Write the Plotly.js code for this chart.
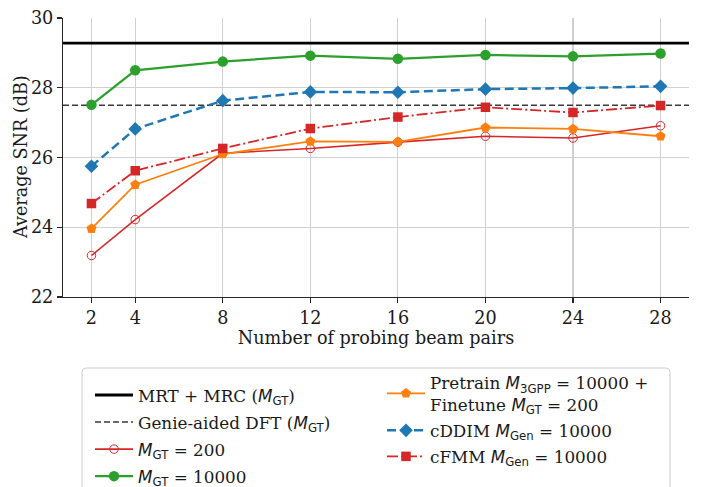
<!DOCTYPE html>
<html>
<head>
<meta charset="utf-8">
<script src="https://cdn.plot.ly/plotly-3.0.1.min.js"></script>
<style>html,body{margin:0;padding:0;background:#fff;}#chart{width:701px;height:487px;}</style>
</head>
<body>
<div id="chart"></div>
<script>
// ---- data ----
var beamPairs = [2, 4, 8, 12, 16, 20, 24, 28];
var xTicks = [2, 4, 8, 12, 16, 20, 24, 28];
var xRange = [0.7, 29.3];
var yRange = [22, 30];
var mrtMrc = 29.28;          // MRT + MRC (M_GT)
var genieDft = 27.5;         // Genie-aided DFT (M_GT)
var mGt200 = [23.19, 24.22, 26.12, 26.26, 26.44, 26.61, 26.56, 26.91];
var mGt10000 = [27.51, 28.50, 28.75, 28.92, 28.83, 28.94, 28.90, 28.98];
var pretrainFinetune = [23.96, 25.22, 26.10, 26.46, 26.45, 26.86, 26.82, 26.61];
var cDDIM = [25.75, 26.82, 27.63, 27.88, 27.87, 27.96, 27.99, 28.04];
var cFMM = [24.68, 25.62, 26.26, 26.83, 27.16, 27.44, 27.29, 27.49];

var LEG_FS = 16.8;
var SANS = 'style="font-family:DejaVu Sans"';
function M(sub) { return '<span ' + SANS + '><i>M</i><sub>' + sub + '</sub></span>'; }
var names = {
  mrt: 'MRT + MRC (' + M('GT') + ')',
  genie: 'Genie-aided DFT (' + M('GT') + ')',
  m200: M('GT') + ' = 200',
  m10000: M('GT') + ' = 10000',
  pre: 'Pretrain ' + M('3GPP') + ' = 10000 +<br>Finetune ' + M('GT') + ' = 200',
  cddim: 'cDDIM ' + M('Gen') + ' = 10000',
  cfmm: 'cFMM ' + M('Gen') + ' = 10000'
};

var traces = [
  {x: xRange, y: [mrtMrc, mrtMrc], name: names.mrt, mode: 'lines', legend: 'legend', legendgroup: 'g1',
   line: {color: '#000000', width: 2.8}},
  {x: xRange, y: [genieDft, genieDft], name: names.genie, mode: 'lines', legend: 'legend', legendgroup: 'g2',
   line: {color: '#3a3a3a', width: 1.6, dash: '6px,3px'}},
  {x: beamPairs, y: mGt200, name: names.m200, mode: 'lines+markers', legend: 'legend', legendgroup: 'g3',
   line: {color: '#d62728', width: 1.6},
   marker: {symbol: 'circle-open', size: 8.5, color: '#d62728', line: {width: 1, color: '#d62728'}}},
  {x: beamPairs, y: mGt10000, name: names.m10000, mode: 'lines+markers', legend: 'legend', legendgroup: 'g4',
   line: {color: '#2ca02c', width: 2.2},
   marker: {symbol: 'circle', size: 10.5, color: '#2ca02c'}},
  {x: beamPairs, y: pretrainFinetune, name: names.pre, mode: 'lines+markers', legend: 'legend2', legendgroup: 'g5',
   line: {color: '#ff7f0e', width: 1.8},
   marker: {symbol: 'pentagon', size: 10.5, color: '#ff7f0e'}},
  {x: beamPairs, y: cDDIM, name: names.cddim, mode: 'lines+markers', legend: 'legend2', legendgroup: 'g6',
   line: {color: '#1f77b4', width: 2.5, dash: '9px,4.5px'},
   marker: {symbol: 'diamond', size: 10.5, color: '#1f77b4'}},
  {x: beamPairs, y: cFMM, name: names.cfmm, mode: 'lines+markers', legend: 'legend2', legendgroup: 'g7',
   line: {color: '#d62728', width: 1.8, dash: '11px,3px,2px,3px'},
   marker: {symbol: 'square', size: 9.5, color: '#d62728'}}
];

var W = 701, H = 487, L = 63, R = 12, T = 18, B = 190;
var pw = W - L - R, ph = H - T - B;
function px2x(p) { return (p - L) / pw; }
function py2y(p) { return (H - B - p) / ph; }

var bx0 = px2x(82), bx1 = px2x(670), byt = py2y(368), byb = py2y(520);
var rdx = 4 / pw, rdy = 4 / ph;
var boxPath = 'M' + bx0 + ',' + byb + ' L' + bx0 + ',' + (byt - rdy) +
  ' Q' + bx0 + ',' + byt + ' ' + (bx0 + rdx) + ',' + byt +
  ' L' + (bx1 - rdx) + ',' + byt +
  ' Q' + bx1 + ',' + byt + ' ' + bx1 + ',' + (byt - rdy) +
  ' L' + bx1 + ',' + byb + ' Z';

var serif = 'DejaVu Serif';
var txtColor = '#1a1a1a';
var AX_FS = 17.6;
var legendFont = {family: serif, size: LEG_FS, color: txtColor};

var layout = {
  width: W, height: H,
  margin: {l: L, r: R, t: T, b: B, pad: 0, autoexpand: false},
  paper_bgcolor: '#ffffff', plot_bgcolor: '#ffffff',
  font: {family: serif, size: AX_FS, color: txtColor},
  showlegend: true,
  xaxis: {
    range: xRange, tickvals: xTicks, ticktext: xTicks.map(String),
    showgrid: true, gridcolor: '#d0d0d0', gridwidth: 1.2, zeroline: false,
    showline: true, linecolor: '#262626', linewidth: 1.2,
    ticks: 'outside', ticklen: 5, tickwidth: 1.2, tickcolor: '#262626',
    tickfont: {family: serif, size: AX_FS, color: txtColor},
    title: {text: 'Number of probing beam pairs', font: {family: serif, size: AX_FS, color: txtColor}, standoff: 3},
    automargin: false
  },
  yaxis: {
    range: yRange, dtick: 2, tick0: 22,
    showgrid: true, gridcolor: '#d0d0d0', gridwidth: 1.2, zeroline: false,
    showline: true, linecolor: '#262626', linewidth: 1.2,
    ticks: 'outside', ticklen: 5, tickwidth: 1.2, tickcolor: '#262626',
    tickfont: {family: serif, size: AX_FS, color: txtColor},
    automargin: false
  },
  annotations: [{
    text: 'Average SNR (dB)', xref: 'paper', yref: 'paper',
    x: px2x(20.5), y: 0.5, xanchor: 'center', yanchor: 'middle',
    textangle: -90, showarrow: false,
    font: {family: serif, size: AX_FS, color: txtColor}
  }],
  legend: {
    x: px2x(90), y: py2y(377.6), xanchor: 'left', yanchor: 'top',
    orientation: 'v', bgcolor: 'rgba(0,0,0,0)', borderwidth: 0,
    font: legendFont, itemwidth: 38, tracegroupgap: 2.2, traceorder: 'grouped'
  },
  legend2: {
    x: px2x(382), y: py2y(365), xanchor: 'left', yanchor: 'top',
    orientation: 'v', bgcolor: 'rgba(0,0,0,0)', borderwidth: 0,
    font: legendFont, itemwidth: 38, tracegroupgap: 1.2, traceorder: 'grouped'
  },
  shapes: [{
    type: 'path', xref: 'paper', yref: 'paper', path: boxPath,
    line: {color: '#cccccc', width: 1}, fillcolor: 'rgba(255,255,255,0)', layer: 'below'
  }]
};

Plotly.newPlot('chart', traces, layout, {staticPlot: true, displayModeBar: false});
</script>
</body>
</html>
